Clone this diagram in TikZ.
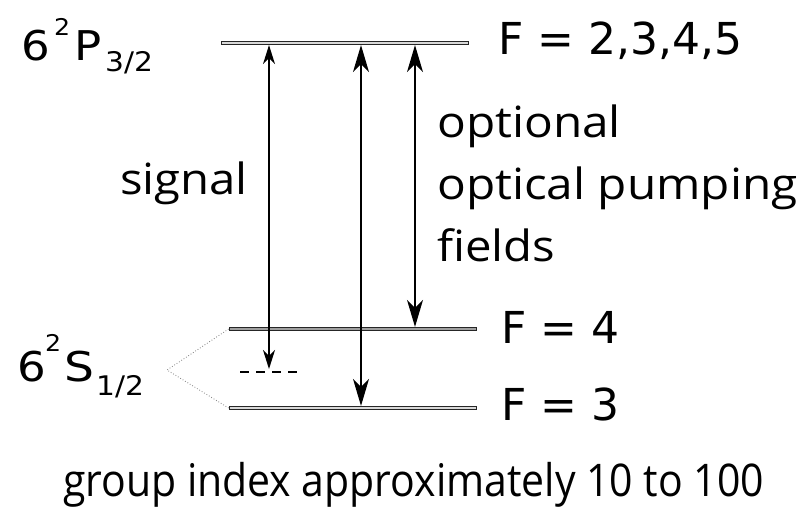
\documentclass[tikz,border=0pt]{standalone}
\usepackage{fontspec}
\setmainfont{Open Sans}
\newfontfamily\dv{DejaVu Sans}
\usetikzlibrary{arrows.meta}
\tikzset{
  lev/.style={draw=black!85, line width=0.8pt, inner sep=0pt, minimum height=3.4pt, minimum width=247pt, rectangle},
  txt/.style={inner sep=0pt, anchor=base west},
  sigarrow/.style={line width=1.5pt, {Stealth[length=19pt,width=12pt,inset=6pt]}-{Stealth[length=19pt,width=12pt,inset=6pt]}},
  bigarrow/.style={line width=1.5pt, {Stealth[length=27pt,width=16pt,inset=8pt]}-{Stealth[length=27pt,width=16pt,inset=8pt]}},
  dotline/.style={gray, line width=0.8pt, dotted},
  dashline/.style={line width=2.4pt, dash pattern=on 9pt off 7pt},
  bodyfont/.style={font=\fontsize{43}{43}\selectfont}
}
\begin{document}
\begin{tikzpicture}[x=1pt,y=-1pt]
\fill[white] (0,0) rectangle (805,508);
\useasboundingbox (0,0) rectangle (805,508);
% levels
\node[lev, fill=gray!30] (P) at (344.5,43) {};
\node[lev, fill=gray!75] (F4) at (352.5,329) {};
\node[lev, fill=gray!30] (F3) at (352.5,408) {};
% arrow x positions
\coordinate (xs) at (269,0);
\coordinate (xm) at (361,0);
\coordinate (xr) at (415,0);
\coordinate (vs) at (269,369);
\coordinate (d1) at (240,372);
\coordinate (d2) at (298,372);
\coordinate (apex) at (167,370);
% arrows
\draw[sigarrow] (P.south -| xs) -- (vs);
\draw[bigarrow] (P.south -| xm) -- (F3.north -| xm);
\draw[bigarrow] (P.south -| xr) -- (F4.north -| xr);
% virtual level
\draw[dashline] (d1) -- (d2);
% dotted bracket
\draw[dotline] (F4.west) -- (apex) -- (F3.west);
% F labels
\node[txt] (FP) at (498,55) {\dv\fontsize{44}{44}\selectfont F = 2,3,4,5};
\node[txt] (FF4) at (501,343) {\dv\fontsize{44}{44}\selectfont F = 4};
\node[txt] (FF3) at (501,420) {\dv\fontsize{44}{44}\selectfont F = 3};
% state labels
\node[txt] (pa) at (21,61) {\dv\fontsize{41}{41}\selectfont\scalebox{1.1}[1]{6}};
\node[txt] (pb) at (54,36) {\dv\fontsize{23}{23}\selectfont\scalebox{1.1}[1]{2}};
\node[txt] (pc) at (74,61) {\dv\fontsize{41}{41}\selectfont\scalebox{1.1}[1]{P}};
\node[txt] (pd) at (105,72) {\dv\fontsize{27}{27}\selectfont\scalebox{1.1}[1]{3/2}};
\node[txt] (sa) at (17,381) {\dv\fontsize{41}{41}\selectfont\scalebox{1.1}[1]{6}};
\node[txt] (sb) at (45,351) {\dv\fontsize{23}{23}\selectfont\scalebox{1.1}[1]{2}};
\node[txt] (sc) at (64,381) {\dv\fontsize{41}{41}\selectfont\scalebox{1.15}[1]{S}};
\node[txt] (sd) at (96,395) {\dv\fontsize{27}{27}\selectfont\scalebox{1.1}[1]{1/2}};
% other labels
\node[txt, bodyfont] (sig) at (120,194) {\scalebox{1.1}[1]{signal}};
\node[txt, bodyfont] (o1) at (437,137) {\scalebox{1.11}[1]{optional}};
\node[txt, bodyfont] (o2) at (437,199) {\scalebox{1.11}[1]{optical pumping}};
\node[txt, bodyfont] (o3) at (437,261) {\scalebox{1.1}[1]{fields}};
\node[inner sep=0pt, anchor=base] (gi) at (413.5,496) {\fontsize{45}{45}\selectfont\scalebox{0.91}[1]{group index approximately 10 to 100}};
\end{tikzpicture}
\end{document}
